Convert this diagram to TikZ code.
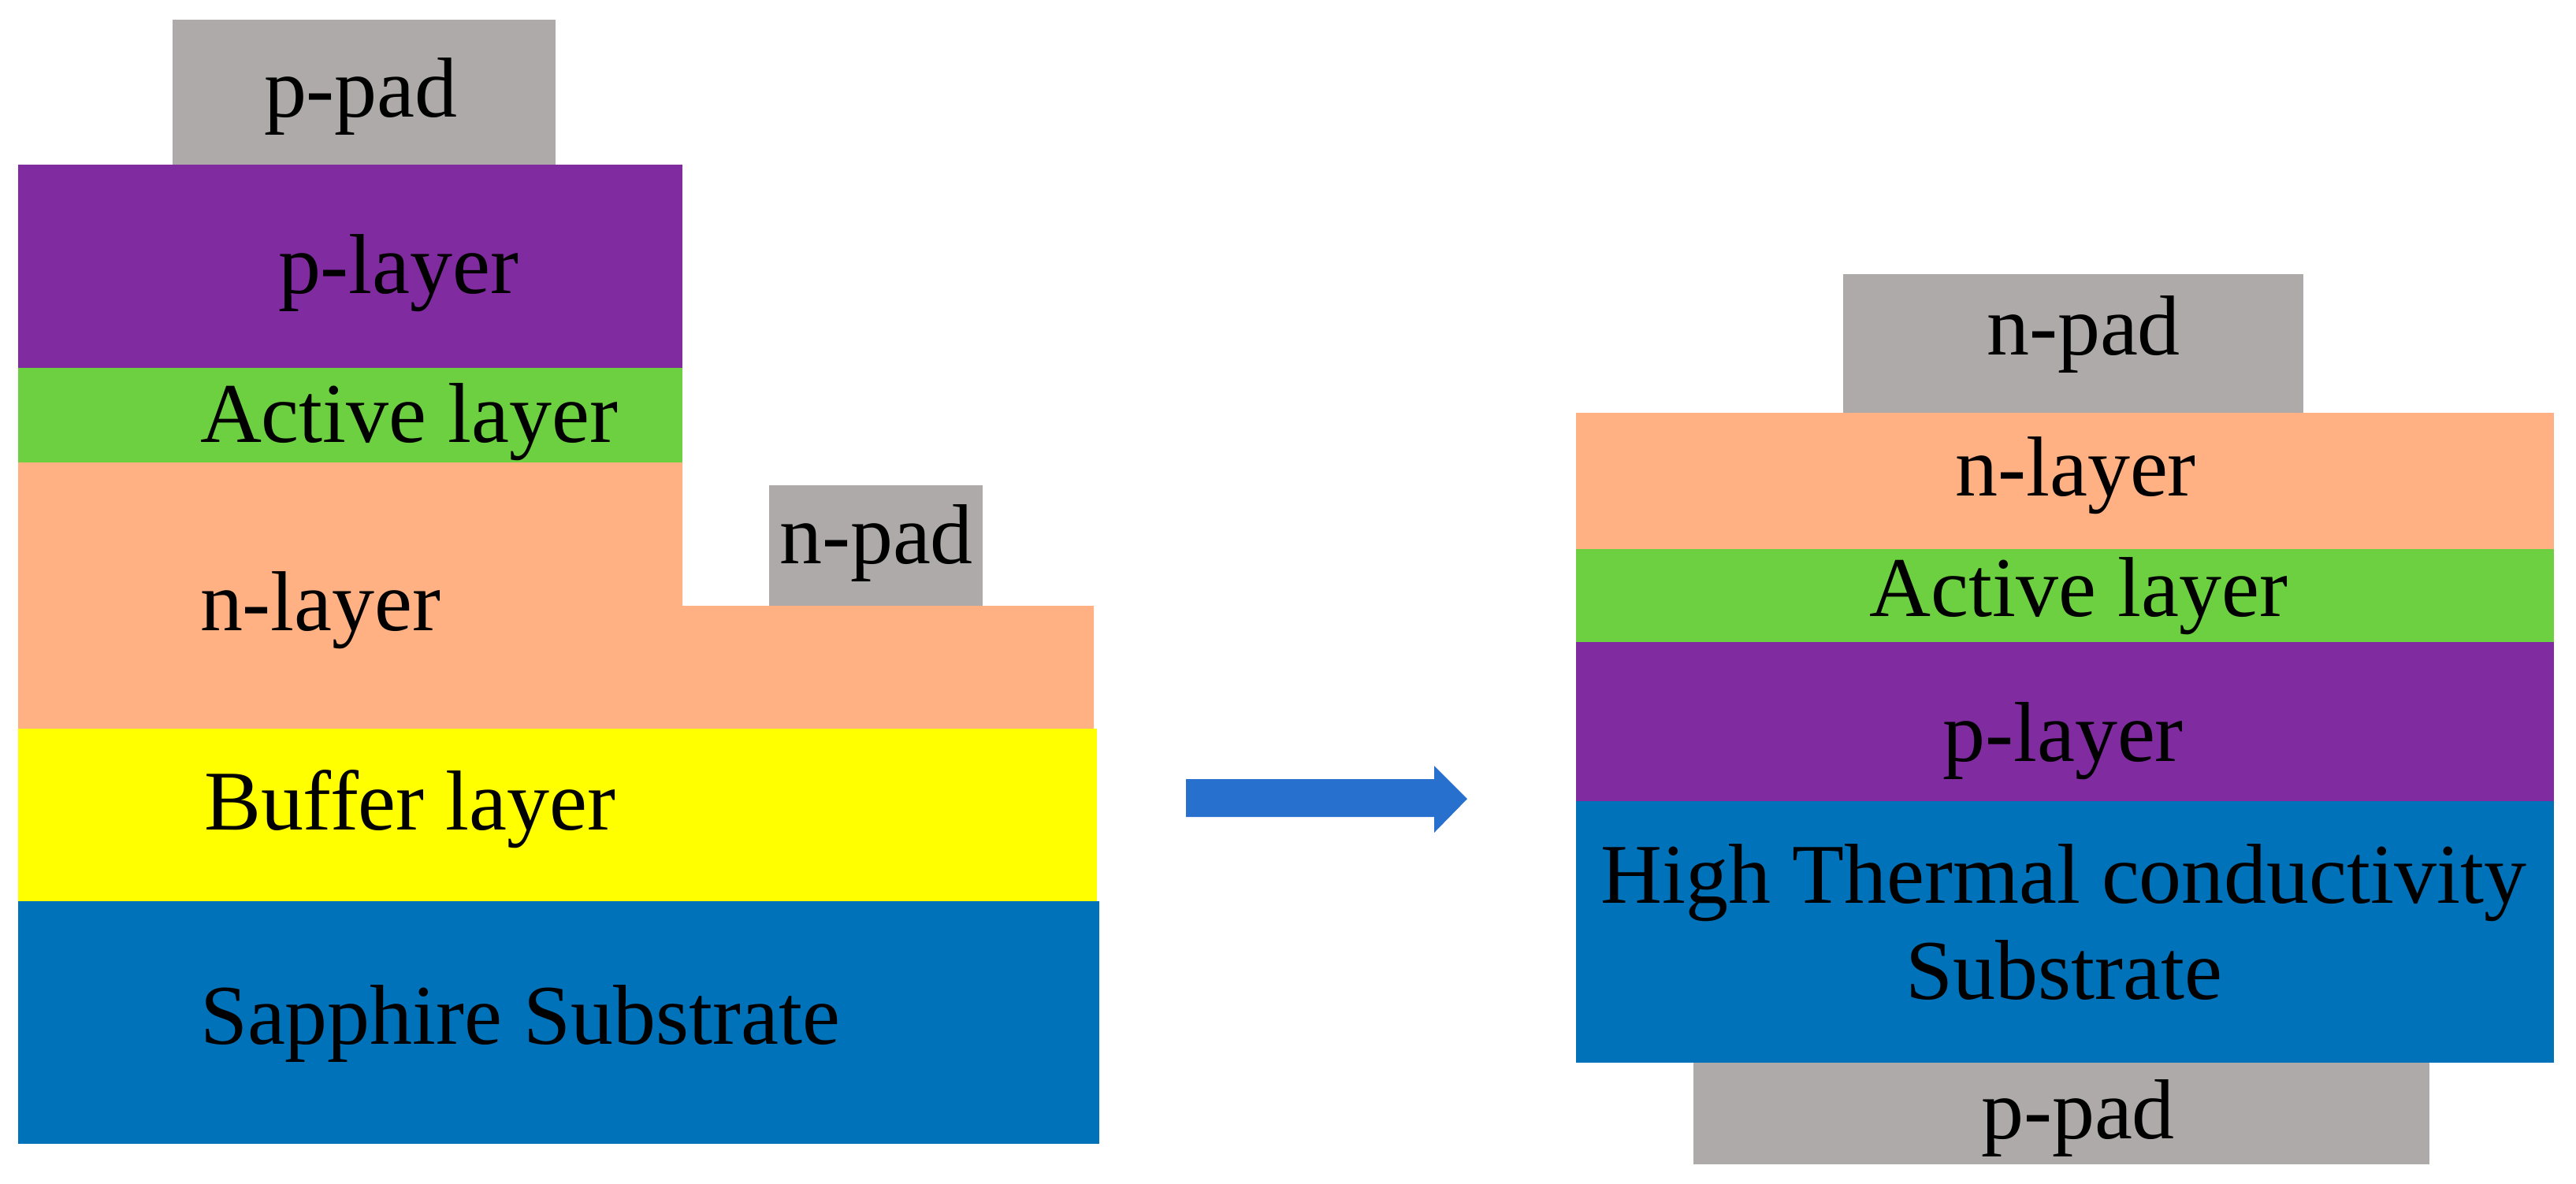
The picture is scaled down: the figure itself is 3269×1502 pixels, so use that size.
\documentclass[tikz,border=0pt]{standalone}
\usepackage{fontspec}
\setmainfont{Liberation Serif}
\definecolor{padgray}{RGB}{174,170,170}
\definecolor{pcol}{RGB}{128,43,160}
\definecolor{actcol}{RGB}{108,208,64}
\definecolor{ncol}{RGB}{255,177,131}
\definecolor{bufcol}{RGB}{255,255,0}
\definecolor{subcol}{RGB}{0,114,185}
\definecolor{arrcol}{RGB}{40,112,205}
\begin{document}
\begin{tikzpicture}[x=0.01cm,y=-0.01cm,
  lbl/.style={inner sep=0pt,outer sep=0pt,font=\fontsize{30.7pt}{34.7pt}\selectfont,text=black}]
\useasboundingbox (0,0) rectangle (3269,1502);
% ---------------- left stack ----------------
\fill[padgray] (219,25) rectangle (705,209);
\fill[pcol] (23,209) rectangle (866,467);
\fill[actcol] (23,467) rectangle (866,587);
\fill[ncol] (23,587) -- (866,587) -- (866,769) -- (1388,769) -- (1388,925) -- (23,925) -- cycle;
\fill[padgray] (976,616) rectangle (1247,769);
\fill[bufcol] (23,925) rectangle (1392,1144);
\fill[subcol] (23,1144) rectangle (1395,1452);
\node[lbl,anchor=base west] (lppad) at (335,148) {p-pad};
\node[lbl,anchor=base west] (lplayer) at (353,372) {p-layer};
\node[lbl,anchor=base west] (lact) at (254,561) {Active layer};
\node[lbl,anchor=base west] (lnlayer) at (254,800) {n-layer};
\node[lbl,anchor=base] (lnpad) at (1112,715) {n-pad};
\node[lbl,anchor=base west] (lbuf) at (259,1053) {Buffer layer};
\node[lbl,anchor=base west] (lsap) at (254,1325) {Sapphire Substrate};
% ---------------- arrow ----------------
\coordinate (arrS) at (1505,1013);
\coordinate (arrE) at (1862,1014);
\fill[arrcol] (1505,989) -- (1820,989) -- (1820,972) -- (arrE) -- (1820,1057) -- (1820,1037) -- (1505,1037) -- cycle;
% ---------------- right stack ----------------
\fill[padgray] (2339,348) rectangle (2923,524);
\fill[ncol] (2000,524) rectangle (3241,697);
\fill[actcol] (2000,697) rectangle (3241,815);
\fill[pcol] (2000,815) rectangle (3241,1017);
\fill[subcol] (2000,1017) rectangle (3241,1349);
\fill[padgray] (2149,1349) rectangle (3083,1478);
\node[lbl,anchor=base] (rnpad) at (2644,450) {n-pad};
\node[lbl,anchor=base] (rnlayer) at (2634,629) {n-layer};
\node[lbl,anchor=base] (ract) at (2638,782) {Active layer};
\node[lbl,anchor=base] (rplayer) at (2618,966) {p-layer};
\node[lbl,anchor=base] (rsub1) at (2619,1146) {High Thermal conductivity};
\node[lbl,anchor=base] (rsub2) at (2619,1268) {Substrate};
\node[lbl,anchor=base] (rppad) at (2637,1445) {p-pad};
\end{tikzpicture}
\end{document}
